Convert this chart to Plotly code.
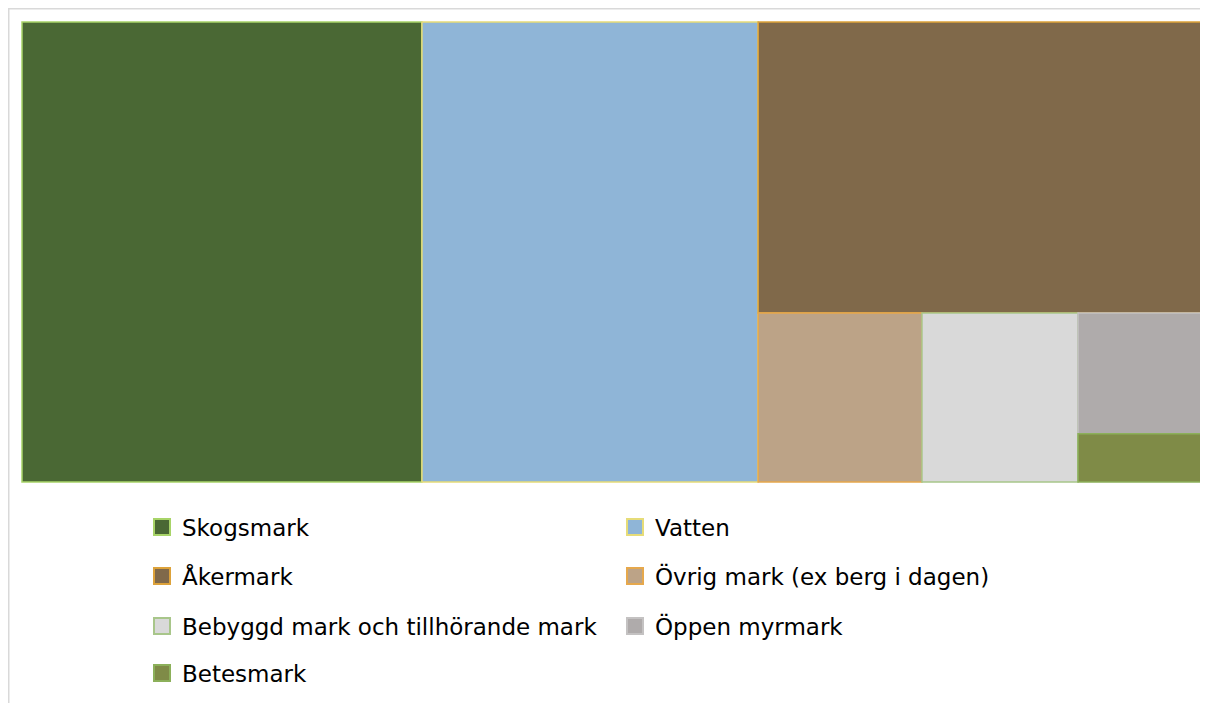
import plotly.graph_objects as go

# page body has an 8px margin, so the figure sits at (8, 8)
OFF = 8
W, H = 1196, 695

categories = ["Skogsmark", "Vatten", "Åkermark", "Övrig mark (ex berg i dagen)",
              "Bebyggd mark och tillhörande mark", "Öppen myrmark", "Betesmark"]
values = [33.9, 28.5, 23.8, 5.1, 4.86, 2.76, 1.10]
fill_colors = ["#4A6834", "#8FB5D7", "#80694A", "#BCA387", "#D9D9D9", "#AFABAB", "#7F8B47"]
line_colors = ["#A8D468", "#E6DC78", "#DDA23A", "#E6A84C", "#A8C68A", "#C4C2C2", "#8CB05A"]

legend_rows = [["Skogsmark", "Vatten"],
               ["Åkermark", "Övrig mark (ex berg i dagen)"],
               ["Bebyggd mark och tillhörande mark", "Öppen myrmark"],
               ["Betesmark"]]


def px_x(v):
    return min(max((v - OFF) / W, 0.0), 1.0)


def px_y(v):
    return min(max(1 - (v - OFF) / H, 0.0), 1.0)


fig = go.Figure()

fig.add_trace(go.Treemap(
    labels=categories,
    parents=[""] * len(categories),
    values=values,
    sort=False,
    textinfo="none",
    hoverinfo="label+value",
    marker=dict(colors=fill_colors, line=dict(color=line_colors, width=1.5),
                pad=dict(t=0, l=0, r=0, b=0)),
    tiling=dict(packing="squarify", squarifyratio=1, pad=0),
    pathbar=dict(visible=False),
    root=dict(color="white"),
    domain=dict(x=[px_x(22), px_x(1202)], y=[px_y(482), px_y(22)]),
))

row_y = [527, 576, 626, 673]
for r, row in enumerate(legend_rows):
    lname = "legend" if r == 0 else f"legend{r + 1}"
    for name in row:
        i = categories.index(name)
        fig.add_trace(go.Scatter(
            x=[None], y=[None], mode="markers", name=name,
            marker=dict(symbol="square", size=18, color=fill_colors[i],
                        line=dict(color=line_colors[i], width=2)),
            legend=lname, showlegend=True, hoverinfo="skip",
        ))

legend_common = dict(orientation="h", xanchor="left", yanchor="middle",
                     entrywidth=428, entrywidthmode="pixels",
                     font=dict(family="DejaVu Sans", size=23, color="#000000"),
                     bgcolor="rgba(0,0,0,0)", borderwidth=0, itemclick=False)

layout_legends = {}
for r in range(len(legend_rows)):
    lname = "legend" if r == 0 else f"legend{r + 1}"
    layout_legends[lname] = dict(legend_common, x=px_x(142), y=px_y(row_y[r]))

fig.update_layout(
    width=W, height=H,
    margin=dict(l=0, r=0, t=0, b=0),
    paper_bgcolor="white", plot_bgcolor="white",
    xaxis=dict(visible=False), yaxis=dict(visible=False),
    shapes=[dict(type="rect", xref="paper", yref="paper",
                 x0=(8.75 - OFF) / W, x1=1.05, y0=-0.05, y1=1 - (8.75 - OFF) / H,
                 line=dict(color="#D9D9D9", width=1.5), fillcolor="rgba(0,0,0,0)")],
    **layout_legends,
)

fig.write_html("out.html")
